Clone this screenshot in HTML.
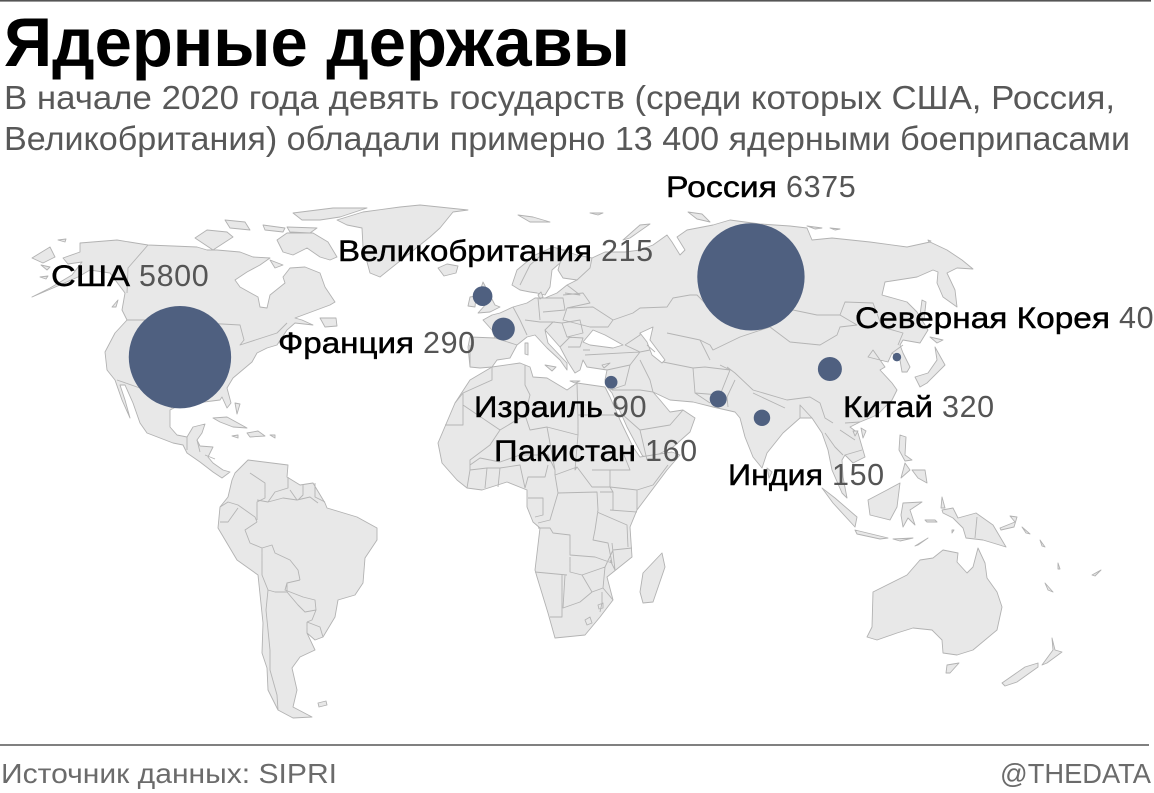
<!DOCTYPE html>
<html lang="ru">
<head>
<meta charset="utf-8">
<title>Ядерные державы</title>
<style>
html,body{margin:0;padding:0;background:#fff;}
body{width:1154px;height:793px;overflow:hidden;}
svg{display:block;font-family:"Liberation Sans","Noto Sans CJK SC",sans-serif;}
.land{fill:#e8e8e8;stroke:#b2b2b2;stroke-width:.9;stroke-linejoin:round;}
.sea{fill:#fff;stroke:#b2b2b2;stroke-width:.9;stroke-linejoin:round;}
.border{fill:none;stroke:#b4b4b4;stroke-width:.9;stroke-linejoin:round;}
</style>
</head>
<body>
<svg id="chart" width="1154" height="793" viewBox="0 0 1154 793" xmlns="http://www.w3.org/2000/svg">
<rect x="0" y="0" width="1151" height="1.6" fill="#555"/>
<text x="4" y="66" font-size="69" font-weight="700" fill="#000" textLength="626" lengthAdjust="spacingAndGlyphs">Ядерные державы</text>
<text x="4" y="109" font-size="33.5" fill="#585858" textLength="1111" lengthAdjust="spacingAndGlyphs">В начале 2020 года девять государств (среди которых США, Россия,</text>
<text x="4" y="150" font-size="33.5" fill="#585858" textLength="1126" lengthAdjust="spacingAndGlyphs">Великобритания) обладали примерно 13 400 ядерными боеприпасами</text>

<g id="world-map">
<path class="land" d="M32 297L53 288L78 277L90 270L110 273L125 293L122 310L127 320L115 333L105 352L107 370L115 380L122 400L130 418L125 400L120 385L125 385L133 403L140 423L147 433L173 443L183 445L187 453L200 462L213 472L222 478L230 472L223 470L213 463L208 457L213 447L200 446L197 440L202 433L205 424L193 427L187 437L177 435L170 427L170 410L180 405L220 400L222 397L227 408L231 403L227 388L233 378L252 362L257 353L267 348L277 345L287 330L295 323L313 325L302 320L295 318L330 305L335 302L325 287L320 273L305 267L290 268L283 277L285 283L270 295L267 308L260 307L258 297L240 287L235 280L247 272L260 265L270 258L253 257L240 252L217 250L207 250L197 247L173 246L148 245L117 240L80 243L80 252L63 258L68 264L82 262L72 275L50 288Z"/>
<path class="land" d="M32 258L50 247L55 257L43 263ZM58 240L66 239L65 242ZM41 265L50 267L47 270ZM40 277L48 276L46 279ZM195 238L207 230L227 232L233 237L213 250ZM225 220L245 222L250 230L230 228ZM263 225L285 228L283 232L265 230ZM277 240L287 233L313 233L328 242L337 257L330 260L320 257L307 248L293 255L283 252ZM293 213L333 208L367 208L340 217L320 220L302 220ZM287 227L317 228L310 233L290 232ZM270 260L283 265L275 268ZM320 318L336 318L337 326L325 327ZM213 418L227 417L247 428L233 427L220 422ZM247 433L258 431L265 436L250 437ZM232 436L238 435L238 438ZM270 435L275 435L275 438ZM235 403L240 404L237 414ZM112 307L118 300L116 307ZM318 703L326 701L327 705L319 707Z"/>
<path class="land" d="M337 220L363 212L400 207L420 205L468 210L453 212L440 228L430 237L410 253L380 277L370 273L363 247L362 228L347 225Z"/>
<path class="land" d="M438 268L447 264L458 266L456 273L444 276Z"/>
<path class="land" d="M468 347L470 337L495 338L492 330L483 320L492 315L500 313L513 307L527 303L535 298L545 298L557 293L567 285L577 280L563 278L558 270L560 263L552 270L550 287L545 295L537 293L530 292L520 290L512 285L517 270L535 255L553 247L577 255L592 258L605 252L625 252L640 250L653 245L667 235L672 242L680 255L685 250L677 237L687 230L713 225L730 220L760 224L790 226L807 228L812 240L832 238L870 242L907 247L930 242L947 250L962 260L973 269L957 268L947 273L955 290L957 307L943 297L937 283L938 272L933 270L917 277L885 282L882 295L907 302L917 312L928 330L920 343L903 340L900 345L903 353L910 367L907 372L902 372L900 360L892 353L888 362L868 357L873 350L885 367L880 370L892 383L897 390L892 400L877 415L860 422L850 427L858 433L865 457L853 463L845 455L842 460L843 477L847 498L842 493L832 470L828 450L822 433L812 418L800 418L783 433L767 453L762 468L753 457L745 437L740 418L735 412L713 407L693 402L670 400L653 392L660 400L670 412L683 410L695 418L690 432L673 447L647 460L642 455L627 427L612 393L607 387L605 380L607 370L587 367L583 360L580 370L575 373L568 362L560 347L545 330L548 343L567 363L567 370L560 360L547 348L535 335L527 337L517 345L510 358L497 360L492 367L480 368L470 367Z"/>
<path class="sea" d="M583 342L593 330L605 335L623 345L613 348L590 345Z"/>
<path class="sea" d="M640 333L653 327L650 340L665 360L662 363L652 355L647 342Z"/>
<path class="land" d="M483 282L495 305L500 307L490 312L478 313L487 303L478 297ZM470 297L476 296L475 307L468 306ZM518 215L533 217L550 222L530 222ZM590 213L603 213L598 215ZM623 240L640 225L650 224L630 238ZM688 212L702 214L710 222L697 219ZM807 226L822 228L815 229ZM830 228L840 229L835 230ZM928 240L931 241L929 242ZM538 295L541 292L543 297L540 299ZM525 343L528 343L528 355L525 354ZM545 365L556 367L552 371ZM570 381L580 381L575 383ZM602 365L610 363L604 368ZM915 377L928 373L937 360L935 347L945 365L927 383L920 387ZM930 337L943 340L937 343ZM922 300L926 302L924 320L920 315ZM861 428L866 431L863 438ZM853 431L858 431L855 436ZM767 468L772 472L769 478Z"/>
<path class="land" d="M900 435L906 437L905 455L912 460L905 461L899 450ZM912 470L925 470L927 483L918 478ZM905 463L910 470L901 478ZM868 500L887 490L900 483L897 507L890 520L870 515ZM903 503L922 502L910 510L915 525L908 518L903 527L901 515ZM822 488L835 498L857 517L855 527L833 503ZM855 530L888 538L880 539L857 534ZM893 539L913 538L900 541ZM915 546L928 538L918 545ZM925 520L935 520L937 522L927 522ZM942 497L945 508L941 508ZM952 530L954 530L952 533ZM942 510L953 508L958 518L976 513L993 525L1006 547L993 543L983 540L966 538L963 528L953 518L943 513ZM1000 528L1015 522L1010 516L1017 517L1014 527L1001 530ZM1022 527L1030 534L1026 533ZM1040 540L1045 547L1042 546ZM1058 563L1060 569L1058 569ZM1045 583L1053 592L1048 590ZM1092 575L1101 570L1095 576Z"/>
<path class="land" d="M867 637L872 627L873 592L907 575L920 560L933 558L943 550L958 553L957 562L967 573L973 567L978 548L985 563L987 578L997 592L1002 607L997 630L973 650L957 655L943 653L942 640L932 630L913 628L897 633L877 640Z"/>
<path class="land" d="M947 665L959 663L950 673L946 673ZM1052 638L1055 650L1062 652L1047 663L1042 665L1053 650ZM1002 683L1025 667L1038 663L1038 667L1017 682L1005 686Z"/>
<path class="land" d="M235 473L248 460L288 465L287 477L300 485L313 483L325 503L327 508L357 517L377 528L377 540L365 558L363 583L355 595L338 600L335 617L323 637L315 640L307 633L315 650L300 657L292 668L297 690L293 707L312 717L293 718L278 710L268 690L267 668L262 653L263 623L258 575L237 560L218 528L220 507L228 497L232 480Z"/>
<path class="land" d="M492 367L470 380L455 403L438 443L442 463L457 480L467 488L482 490L507 482L527 490L527 507L533 522L540 528L535 570L537 577L548 613L555 638L585 635L600 617L613 600L607 577L632 557L630 527L637 510L667 470L680 455L672 452L640 457L633 447L620 420L610 397L605 387L577 383L567 390L547 378L533 377L530 367L520 363Z"/>
<path class="land" d="M662 553L665 567L653 602L643 603L640 592L643 573Z"/>
<path class="border" d="M148 245L128 268L127 293M127 320L150 320L240 325L244 340L240 345L277 333L287 323M117 380L140 388L160 398L172 408M187 437L187 450M197 440L200 452M205 455L215 459M250 473L265 483L265 498L257 502L257 520M288 477L288 488L275 492L268 502L257 500M297 500L290 490M303 485L303 495L298 500M315 483L315 497L325 502M268 502L283 498L297 500L310 497L318 503M220 507L228 502L238 505L255 517L257 522M220 522L228 522L238 508M257 522L245 530L250 543L262 548L272 545L275 553L290 560L298 570L300 580M262 548L262 575L268 590M268 590L275 592L287 592L287 583L300 580M287 583L285 590L303 597L315 600L316 610L305 612L298 605L287 592M268 590L266 610L268 630L270 650L270 670L277 695L278 710M307 622L320 627L323 637M307 622L307 633M316 610L312 620L307 622"/>
<path class="border" d="M492 367L492 380L463 393L455 403M463 393L463 405L500 430L490 445L470 460L470 470L467 488M445 425L463 425L463 405M525 365L525 385L530 395L525 415L530 430L547 427L555 470M500 430L525 415M577 383L578 420L578 435L547 427M578 415L623 415M578 435L575 470L577 467L592 487L610 487L613 492L600 492M610 470L630 470L620 445M592 470L610 470L610 487L637 490L653 485L668 465M637 490L637 510M470 470L487 468L500 468L520 465L525 488M485 488L487 468M498 487L500 468M470 465L480 458L500 462L520 455L548 455L555 470L555 475L577 467M525 488L528 477L545 477L548 465M558 493L597 492L598 510L595 530L593 540L608 543L612 563L595 557L570 555L570 535L553 533L550 528L538 528M555 475L558 493L550 520L538 523M528 498L543 498L543 515L535 517M535 572L567 575M570 557L570 572L582 575L605 567M565 575L563 608L580 602L592 592L582 575M562 575L562 617L550 617M592 592L603 588L605 567M605 567L613 550L632 548M597 512L627 525L628 547M610 510L637 512M600 492L613 492L613 510M603 588L613 600M602 592L602 603L600 612M585 620L590 617L592 623L587 625ZM612 543L615 570L610 560M598 605L603 603L603 608L599 609Z"/>
<path class="border" d="M495 338L517 345M470 345L470 367M513 307L520 320L527 335M525 320L540 322L555 322M538 298L540 320M538 298L563 298L565 310L543 312M567 308L593 307L613 320L608 327L590 327L563 320L567 308M563 295L583 293L590 303L567 308M562 323L580 320L583 333L567 337L562 323M567 337L583 338L580 347L568 347M560 347L570 337M553 322L562 323M545 330L553 322M577 280L590 268L592 258M560 263L565 250L553 247M520 285L530 265L545 252M567 285L580 295L565 293M583 350L590 350M585 355L640 352L630 365L607 370M625 345L640 352L650 350M630 365L625 385L610 390M612 390L640 390L653 392M640 360L650 380L653 392M647 345L655 352M613 320L633 313L640 308L667 307L673 298L690 295L697 295L705 303L760 310L793 310L817 315L840 315L845 302L873 303L882 327L903 333L898 345M625 345L640 335L640 333M663 362L693 368L705 367L730 370M667 333L700 340L710 345L713 350L740 337L770 327M770 327L790 342L820 345L837 335L840 327L857 325L840 315M693 368L695 393L710 403M695 393L720 395L730 370L720 365M727 367L735 373L753 390L787 400L810 397L820 403L825 418L833 423M735 380L727 397L728 407M753 393L785 408M800 418L800 405L812 418M825 433L835 447L843 455M840 430L855 440M845 423L860 422M845 455L862 450M700 340L710 360M892 353L903 345M623 415L640 430L670 425L683 410M640 430L647 460"/>
<path class="border" d="M977 517L975 538"/>
</g>

<g id="bubbles"></g>
<g id="labels"></g>

<rect x="0" y="744" width="1149" height="2" fill="#808080"/>
<text x="1" y="783" font-size="27.5" fill="#6b6b6b" textLength="336" lengthAdjust="spacingAndGlyphs">Источник данных: SIPRI</text>
<text x="1000" y="783" font-size="27.5" fill="#6b6b6b" textLength="151" lengthAdjust="spacingAndGlyphs">@THEDATA</text>
</svg>

<script>
var countries = ["США","Россия","Великобритания","Франция","Израиль","Пакистан","Индия","Китай","Северная Корея"];
var warheads = [5800,6375,215,290,90,160,150,320,40];
var longitudes = [-105.9,80.7,-7,-0.2,35,70,84.3,106.5,128.4];
var latitudes = [37.8,59.5,54.3,45.4,31,26.5,21.4,34.6,37.8];

var svgNS = "http://www.w3.org/2000/svg";
function xScale(lon){ return 504 + 3.06 * lon; }
function yScale(lat){ return 497 - 3.7 * lat; }
function rScale(v){ return 0.672 * Math.sqrt(v); }

var bubbleLayer = document.getElementById("bubbles");
var labelLayer = document.getElementById("labels");
var labelLayout = {
  "США":{x:51,y:286,w:79},
  "Россия":{x:666,y:197,w:111},
  "Великобритания":{x:338,y:261,w:254},
  "Франция":{x:278,y:353,w:136},
  "Израиль":{x:474,y:417,w:129},
  "Пакистан":{x:494,y:461,w:142},
  "Индия":{x:728,y:485,w:95},
  "Китай":{x:843,y:417,w:90},
  "Северная Корея":{x:855,y:328,w:255}
};

countries.forEach(function(name,i){
  var c = document.createElementNS(svgNS,"circle");
  c.setAttribute("cx", xScale(longitudes[i]));
  c.setAttribute("cy", yScale(latitudes[i]));
  c.setAttribute("r", rScale(warheads[i]));
  c.setAttribute("fill", "#4f6080");
  
  
  bubbleLayer.appendChild(c);

  var pos = labelLayout[name];
  var t = document.createElementNS(svgNS,"text");
  t.setAttribute("x", pos.x);
  t.setAttribute("y", pos.y);
  t.setAttribute("font-size", "30");
  t.setAttribute("fill", "#000");
  t.setAttribute("stroke", "#000");
  t.setAttribute("stroke-width", "0.45");
  t.setAttribute("textLength", pos.w);
  t.setAttribute("lengthAdjust", "spacingAndGlyphs");
  t.textContent = name;
  
  
  labelLayer.appendChild(t);

  var v = document.createElementNS(svgNS,"text");
  v.setAttribute("x", pos.x + pos.w + 9);
  v.setAttribute("y", pos.y);
  v.setAttribute("font-size", "30.5");
  v.setAttribute("fill", "#555");
  v.setAttribute("letter-spacing", "0.6");
  v.textContent = String(warheads[i]);
  
  
  labelLayer.appendChild(v);
});
</script>
</body>
</html>
